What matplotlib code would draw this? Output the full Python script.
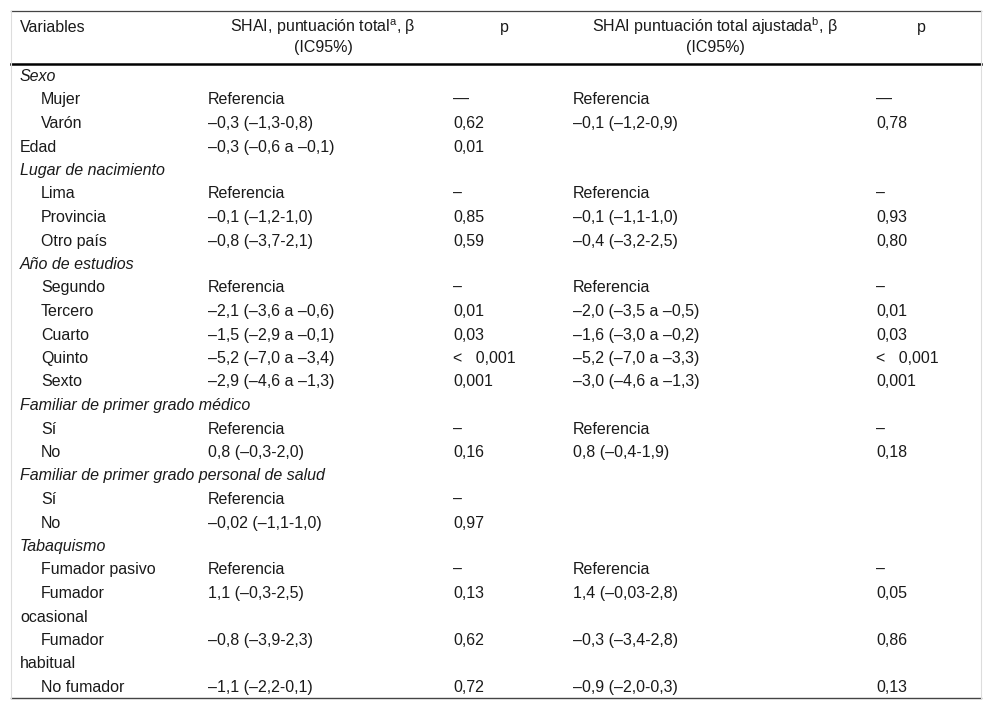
import matplotlib
matplotlib.use("Agg")
import matplotlib.pyplot as plt

plt.rcParams['font.family'] = ['Liberation Sans', 'DejaVu Sans']
plt.rcParams['mathtext.fontset'] = 'custom'
plt.rcParams['mathtext.rm'] = 'Liberation Sans'

# datos de la tabla
headers = ["Variables", "SHAI, puntuación total$^{\\mathrm{a}}$, β\n(IC95%)", "p",
           "SHAI puntuación total ajustada$^{\\mathrm{b}}$, β\n(IC95%)", "p"]

variables = ["Sexo", "Mujer", "Varón", "Edad", "Lugar de nacimiento", "Lima", "Provincia",
             "Otro país", "Año de estudios", "Segundo", "Tercero", "Cuarto", "Quinto", "Sexto",
             "Familiar de primer grado médico", "Sí", "No",
             "Familiar de primer grado personal de salud", "Sí", "No",
             "Tabaquismo", "Fumador pasivo", "Fumador\nocasional", "Fumador\nhabitual", "No fumador"]
# 0 = grupo (cursiva), 1 = subcategoría, 2 = variable simple
levels = [0, 1, 1, 2, 0, 1, 1, 1, 0, 1, 1, 1, 1, 1, 0, 1, 1, 0, 1, 1, 0, 1, 1, 1, 1]

beta_total = ["", "Referencia", "–0,3 (–1,3-0,8)", "–0,3 (–0,6 a –0,1)", "", "Referencia",
              "–0,1 (–1,2-1,0)", "–0,8 (–3,7-2,1)", "", "Referencia", "–2,1 (–3,6 a –0,6)",
              "–1,5 (–2,9 a –0,1)", "–5,2 (–7,0 a –3,4)", "–2,9 (–4,6 a –1,3)", "", "Referencia",
              "0,8 (–0,3-2,0)", "", "Referencia", "–0,02 (–1,1-1,0)", "", "Referencia",
              "1,1 (–0,3-2,5)", "–0,8 (–3,9-2,3)", "–1,1 (–2,2-0,1)"]
p_total = ["", "—", "0,62", "0,01", "", "–", "0,85", "0,59", "", "–", "0,01", "0,03",
           "<   0,001", "0,001", "", "–", "0,16", "", "–", "0,97", "", "–", "0,13", "0,62", "0,72"]
beta_adj = ["", "Referencia", "–0,1 (–1,2-0,9)", "", "", "Referencia", "–0,1 (–1,1-1,0)",
            "–0,4 (–3,2-2,5)", "", "Referencia", "–2,0 (–3,5 a –0,5)", "–1,6 (–3,0 a –0,2)",
            "–5,2 (–7,0 a –3,3)", "–3,0 (–4,6 a –1,3)", "", "Referencia", "0,8 (–0,4-1,9)",
            "", "", "", "", "Referencia", "1,4 (–0,03-2,8)", "–0,3 (–3,4-2,8)", "–0,9 (–2,0-0,3)"]
p_adj = ["", "—", "0,78", "", "", "–", "0,93", "0,80", "", "–", "0,01", "0,03",
         "<   0,001", "0,001", "", "–", "0,18", "", "", "", "", "–", "0,05", "0,86", "0,13"]

fig = plt.figure(figsize=(9.92, 7.10), dpi=100)
ax = fig.add_axes([0, 0, 1, 1])
ax.set_xlim(0, 992)
ax.set_ylim(710, 0)
ax.axis('off')

fs = 11.5
tc = '#1a1a1a'
col_x = [208, 453, 573, 876]
left, right = 11, 981
base = 5  # distancia del centro a la línea base


def cell(x, y, s, ha='left', **kw):
    ax.text(x, round(y), s, fontsize=fs, va='baseline', ha=ha, color=tc, **kw)


# encabezado
cell(20, 27 + base, headers[0])
for x, h in [(323, headers[1]), (715, headers[3])]:
    first, second = h.split("\n")
    cell(x, 27 + base, first, ha='center')
    cell(x, 47 + base, second, ha='center')
cell(504, 27 + base, headers[2], ha='center')
cell(921, 27 + base, headers[4], ha='center')

ax.plot([left, right], [11, 11], color='#444444', lw=0.9)
ax.plot([left, right], [64, 64], color='black', lw=1.8)
ax.plot([left, right], [697.5, 697.5], color='#444444', lw=1.0)
ax.plot([left, left], [11, 697.5], color='#dddddd', lw=0.8)
ax.plot([right, right], [11, 697.5], color='#dddddd', lw=0.8)

y0, step = 76, 23.5
line = 0
for i, var in enumerate(variables):
    y = y0 + line * step + base
    parts = var.split("\n")
    if levels[i] == 0:
        cell(20, y, parts[0], style='italic')
    elif levels[i] == 2:
        cell(20, y, parts[0])
    else:
        cell(41, y, parts[0])
        for k, extra in enumerate(parts[1:]):
            cell(20, y + (k + 1) * step, extra)
    for x, col in zip(col_x, [beta_total, p_total, beta_adj, p_adj]):
        if col[i]:
            cell(x, y, col[i])
    line += len(parts)

fig.savefig("out.png", dpi=100)
